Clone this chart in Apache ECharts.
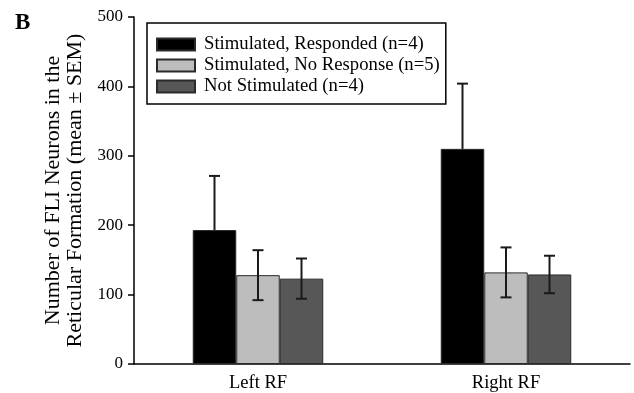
<!DOCTYPE html>
<html>
<head>
<meta charset="utf-8">
<script src="https://cdn.jsdelivr.net/npm/echarts@6/dist/echarts.min.js"></script>
<style>
  html, body { margin: 0; padding: 0; background: #fff; }
  #chart { width: 634px; height: 393px; }
</style>
</head>
<body>
<div id="chart"></div>
<script>
// data
const categories = ['Left RF', 'Right RF']
const seriesNames = [
  'Stimulated, Responded (n=4)',
  'Stimulated, No Response (n=5)',
  'Not Stimulated (n=4)'
]
const respondedMean = [193, 310]
const respondedSem = [78, 94]
const noResponseMean = [128, 132]
const noResponseSem = [36, 36]
const notStimMean = [123, 129]
const notStimSem = [29, 27]
const yTicks = [0, 100, 200, 300, 400, 500]

const means = [respondedMean, noResponseMean, notStimMean]
const sems = [respondedSem, noResponseSem, notStimSem]
const colors = ['#000000', '#bdbdbd', '#575757']
const font = '"Liberation Serif", "Times New Roman", serif'
const barW = 43.5

// error bar drawn with custom series, shifted to sit on its bar
// the black bar hides its own lower whisker, so only the upper half is drawn there
function errorSeries(k) {
  return {
    type: 'custom',
    name: seriesNames[k] + ' SEM',
    z: 5,
    silent: true,
    data: categories.map((c, i) => [i, means[k][i], sems[k][i]]),
    renderItem: (params, api) => {
      const m = api.value(1), s = api.value(2)
      const hi = api.coord([api.value(0), m + s])
      const lo = api.coord([api.value(0), k === 0 ? m : m - s])
      const x = hi[0] + (k - 1) * barW
      const cap = 5.5
      const style = { stroke: '#1a1a1a', lineWidth: 2 }
      const kids = [
        { type: 'line', shape: { x1: x, y1: lo[1], x2: x, y2: hi[1] }, style },
        { type: 'line', shape: { x1: x - cap, y1: hi[1], x2: x + cap, y2: hi[1] }, style }
      ]
      if (k !== 0) {
        kids.push({ type: 'line', shape: { x1: x - cap, y1: lo[1], x2: x + cap, y2: lo[1] }, style })
      }
      return { type: 'group', children: kids }
    }
  }
}

const chart = echarts.init(document.getElementById('chart'))
chart.setOption({
  animation: false,
  textStyle: { fontFamily: font },
  title: {
    text: 'B',
    left: 10,
    top: 7,
    textStyle: { fontFamily: font, fontWeight: 'bold', fontSize: 23, color: '#000' }
  },
  legend: {
    data: seriesNames,
    orient: 'vertical',
    left: 147,
    top: 23,
    padding: [12, 6, 8, 9],
    itemGap: 2,
    itemWidth: 38,
    itemHeight: 12,
    icon: 'rect',
    borderColor: '#000',
    borderWidth: 1.5,
    borderRadius: 0,
    selectedMode: false,
    textStyle: { fontFamily: font, fontSize: 18.7, color: '#000', padding: [0, 0, 0, 4] }
  },
  grid: { left: 134, right: 4, top: 17, bottom: 29 },
  xAxis: {
    type: 'category',
    data: categories,
    axisLine: { lineStyle: { color: '#000', width: 1.5 } },
    axisTick: { show: false },
    axisLabel: { fontFamily: font, fontSize: 18.5, color: '#000', margin: 10 }
  },
  yAxis: {
    type: 'value',
    min: yTicks[0],
    max: yTicks[yTicks.length - 1],
    interval: 100,
    name: 'Number of FLI Neurons in the\nReticular Formation (mean ± SEM)',
    nameLocation: 'middle',
    nameRotate: 90,
    nameGap: 46,
    nameTextStyle: { fontFamily: font, fontSize: 22, color: '#000', lineHeight: 22 },
    axisLine: { show: true, lineStyle: { color: '#000', width: 1.5 } },
    axisTick: { show: true, length: 6, lineStyle: { color: '#000', width: 1.5 } },
    axisLabel: { fontFamily: font, fontSize: 17, color: '#000', margin: 11 },
    splitLine: { show: false }
  },
  series: seriesNames.map((name, k) => ({
    type: 'bar',
    name,
    data: means[k],
    barWidth: barW,
    barGap: '0%',
    itemStyle: { color: colors[k], borderColor: '#2a2a2a', borderWidth: 1 }
  })).concat([0, 1, 2].map(errorSeries))
})
</script>
</body>
</html>
